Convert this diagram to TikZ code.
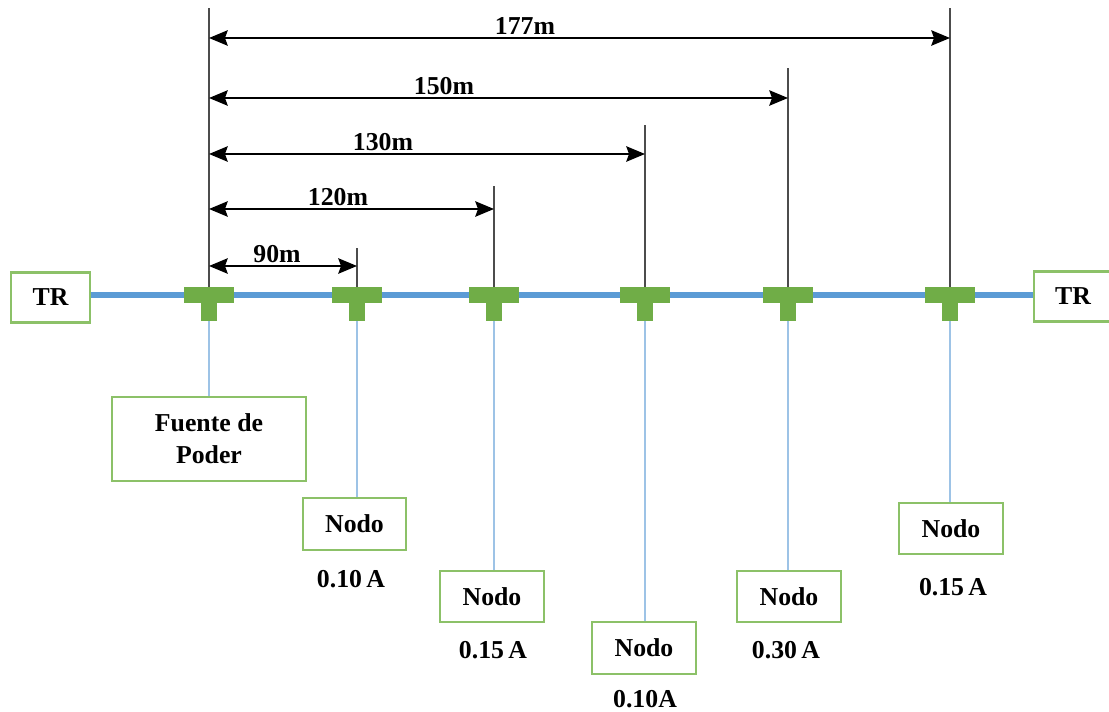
\documentclass[tikz,border=0pt]{standalone}
\usepackage{fontspec}
\setmainfont{Liberation Serif}
\usetikzlibrary{arrows.meta,positioning}
\definecolor{busc}{HTML}{5B9BD5}
\definecolor{branchc}{HTML}{9DC3E6}
\definecolor{teec}{HTML}{70AD47}
\definecolor{boxc}{HTML}{8CC168}
\tikzset{
  lbl/.style={font=\bfseries\fontsize{22}{27}\selectfont,inner sep=0pt,align=center},
  bx/.style={lbl,rectangle,draw=boxc,line width=0.065cm,fill=white},
  nodobx/.style={bx,minimum width=3.1cm,minimum height=1.55cm},
  trbx/.style={bx,minimum width=2.35cm,minimum height=1.5cm},
  teebar/.style={rectangle,fill=teec,minimum width=1.52cm,minimum height=0.48cm,inner sep=0pt},
  teestem/.style={rectangle,fill=teec,minimum width=0.48cm,minimum height=0.52cm,inner sep=0pt},
  bus/.style={busc,line width=0.16cm},
  branch/.style={branchc,line width=0.07cm},
  ext/.style={black!70,line width=0.06cm},
  ar/.style={{Stealth[length=0.56cm,width=0.46cm,inset=0.08cm]}-{Stealth[length=0.56cm,width=0.46cm,inset=0.08cm]},black,line width=0.07cm}
}
\begin{document}
\begin{tikzpicture}[x=0.03cm,y=-0.03cm]
\useasboundingbox (0,0) rectangle (1109,712);
\node[trbx] (trl) at (50.5,297.5) {TR};
\node[trbx] (trr) at (1073,296.5) {TR};
\draw[bus] (trl.east |- 0,295) -- (trr.west |- 0,295);
% derivaciones
\foreach \i/\x in {1/209,2/357,3/494,4/645,5/788,6/950}{
  \node[teebar] (t\i) at (\x,295) {};
  \node[teestem,below=0pt of t\i] (s\i) {};
}
\node[bx,minimum width=5.84cm,minimum height=2.5cm] (fuente) at (209,439) {Fuente de\\Poder};
\node[nodobx] (n2) at (354.5,524) {Nodo};
\node[nodobx] (n3) at (492,596.5) {Nodo};
\node[nodobx] (n4) at (644,648) {Nodo};
\node[nodobx] (n5) at (789,596.5) {Nodo};
\node[nodobx] (n6) at (951,528.5) {Nodo};
\draw[branch] (s1.south) -- (fuente.north);
\foreach \i in {2,...,6}{
  \draw[branch] (s\i.south) -- (s\i.south |- n\i.north);
}
\node[lbl] (c2) at (351,579) {0.10\,A};
\node[lbl] (c3) at (493,650) {0.15\,A};
\node[lbl] (c4) at (645,699) {0.10A};
\node[lbl] (c5) at (786,650) {0.30\,A};
\node[lbl] (c6) at (953,587) {0.15\,A};
% cotas
\coordinate (e1) at (209,8);
\draw[ext] (t1.north) -- (e1);
\foreach \i/\y/\d/\lab/\lx/\ly in {2/248/266/90m/277/254,3/186/209/120m/338/197,4/125/154/130m/383/142,5/68/98/150m/444/86,6/8/38/177m/525/26}{
  \coordinate (e\i) at (t\i.north |- 0,\y);
  \draw[ext] (t\i.north) -- (e\i);
  \draw[ar] (t1.north |- 0,\d) -- (t\i.north |- 0,\d);
  \node[lbl] (m\i) at (\lx,\ly) {\lab};
}
\end{tikzpicture}
\end{document}
